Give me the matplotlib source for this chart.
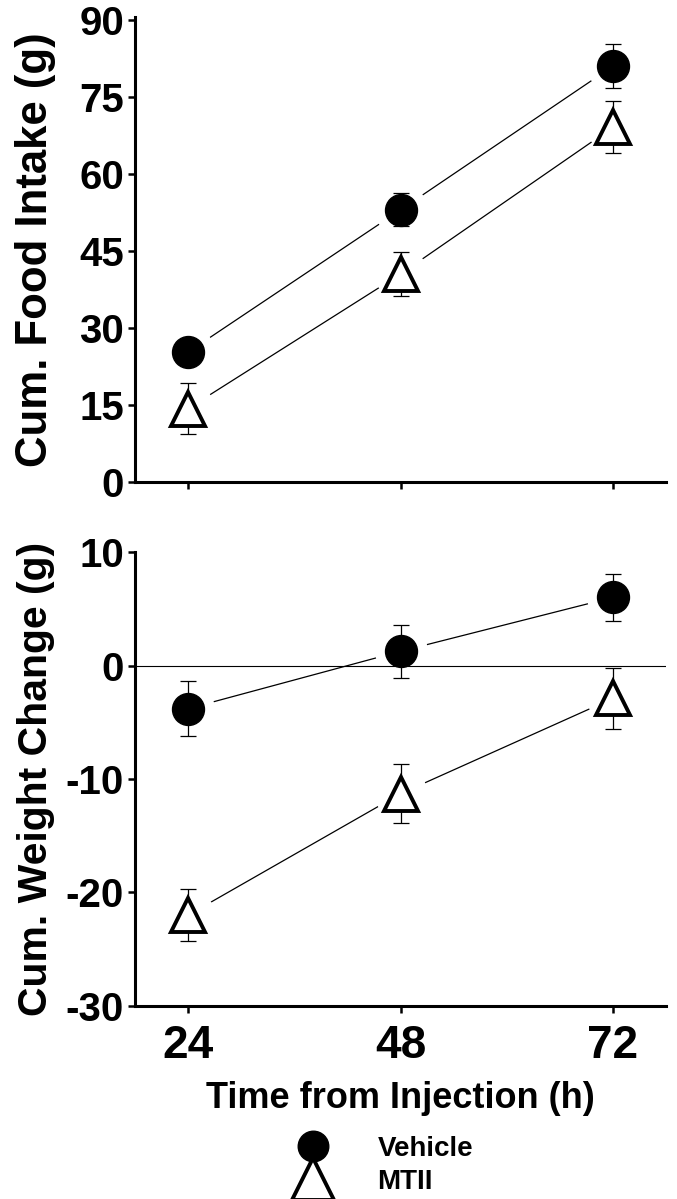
import matplotlib
matplotlib.use("Agg")
import matplotlib.pyplot as plt
from matplotlib import font_manager
from matplotlib.lines import Line2D

# ---- data ----
hours = [24, 48, 72]
food_vehicle = [25.3, 53.0, 81.0]
food_vehicle_sem = [1.5, 3.2, 4.3]
food_mtii = [14.3, 40.5, 69.1]
food_mtii_sem = [5.0, 4.3, 5.1]
weight_vehicle = [-3.8, 1.25, 6.0]
weight_vehicle_sem = [2.4, 2.35, 2.1]
weight_mtii = [-22.0, -11.3, -2.9]
weight_mtii_sem = [2.3, 2.6, 2.7]
food_ticks = [0, 15, 30, 45, 60, 75, 90]
weight_ticks = [-30, -20, -10, 0, 10]
series_labels = ["Vehicle", "MTII"]

names = {f.name for f in font_manager.fontManager.ttflist}
narrow = "Liberation Sans Narrow" if "Liberation Sans Narrow" in names else "Liberation Sans"
plt.rcParams["font.family"] = ["Liberation Sans", "DejaVu Sans"]
plt.rcParams["font.weight"] = "bold"
plt.rcParams["axes.unicode_minus"] = False

fig = plt.figure(figsize=(6.77, 11.99), dpi=100)
ax1 = fig.add_axes([0.1994, 0.598, 0.7844, 0.3875])
ax2 = fig.add_axes([0.1994, 0.161, 0.7844, 0.3786])

MS_C = 23
MS_T = 25
HALO = 38


def draw(ax, y, e, marker, face, ms, mew):
    ax.plot(hours, y, color="black", lw=0.9, zorder=1, solid_capstyle="butt")
    ax.plot(hours, y, ls="none", marker="o", ms=HALO, mfc="white", mec="none", zorder=2)
    ax.errorbar(hours, y, yerr=e, fmt="none", ecolor="black", elinewidth=0.9,
                capsize=6, capthick=0.9, zorder=3)
    ax.plot(hours, y, ls="none", marker=marker, ms=ms, mfc=face, mec="black",
            mew=mew, zorder=4)


draw(ax1, food_vehicle, food_vehicle_sem, "o", "black", MS_C, 1)
draw(ax1, food_mtii, food_mtii_sem, "^", "white", MS_T, 2.8)
draw(ax2, weight_vehicle, weight_vehicle_sem, "o", "black", MS_C, 1)
draw(ax2, weight_mtii, weight_mtii_sem, "^", "white", MS_T, 2.8)
ax2.axhline(0, color="black", lw=0.8, zorder=2.5)

for ax in (ax1, ax2):
    ax.set_xlim(18, 78)
    ax.set_xticks(hours)
    ax.spines["top"].set_visible(False)
    ax.spines["right"].set_visible(False)
    ax.spines["left"].set_linewidth(2.2)
    ax.spines["bottom"].set_linewidth(2.2)
    ax.tick_params(axis="both", direction="out", length=5, width=1.8)
    ax.patch.set_alpha(0)

ax1.set_ylim(0, 90.5)
ax1.set_yticks(food_ticks)
ax1.set_xticklabels([])
ax2.set_ylim(-30, 10)
ax2.set_yticks(weight_ticks)
ax2.set_xticklabels([str(h) for h in hours], fontsize=33, fontweight="bold")
ax2.tick_params(axis="x", pad=8)

for ax in (ax1, ax2):
    for lab in ax.get_yticklabels():
        lab.set_fontfamily(narrow)
        lab.set_fontsize(29)
        lab.set_fontweight("bold")
    ax.tick_params(axis="y", pad=3)

ax1.set_ylabel("Cum. Food Intake (g)", fontsize=31.5, fontweight="bold")
ax2.set_ylabel("Cum. Weight Change (g)", fontsize=29.5, fontweight="bold")
ax1.yaxis.set_label_coords(-0.148, 0.5)
ax2.yaxis.set_label_coords(-0.150, 0.5)
ax2.set_xlabel("Time from Injection (h)", fontsize=26, fontweight="bold", labelpad=9)

handles = [
    Line2D([], [], ls="none", marker="o", ms=22, mfc="black", mec="black"),
    Line2D([], [], ls="none", marker="^", ms=30, mfc="white", mec="black", mew=2.8),
]
fig.legend(handles, series_labels, loc="center left", bbox_to_anchor=(0.431, 0.0279),
           frameon=False, prop={"weight": "bold", "size": 20},
           handletextpad=1.58, labelspacing=0.26, handlelength=1.5, borderpad=0,
           borderaxespad=0)

fig.savefig("out.png", dpi=100)
